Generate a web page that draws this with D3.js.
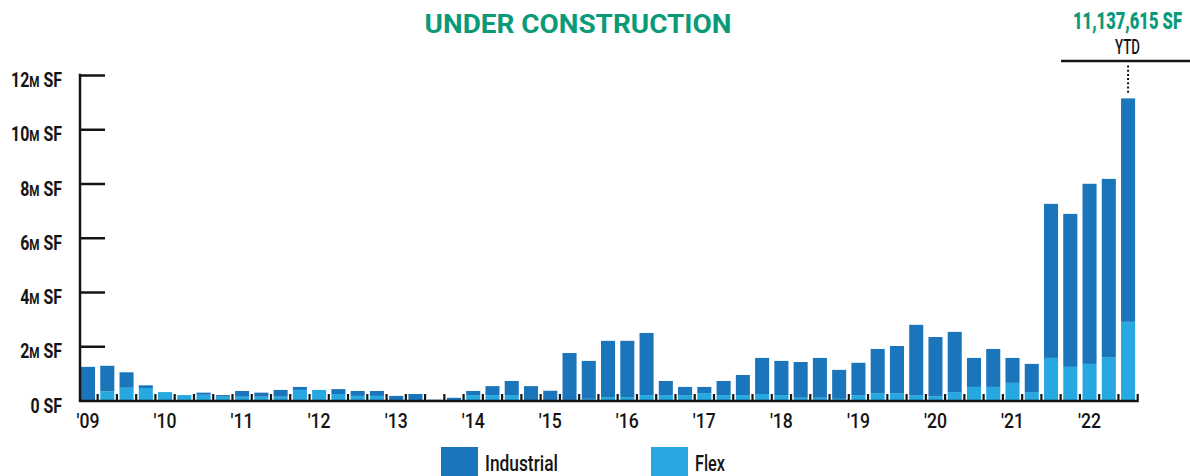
<!DOCTYPE html>
<html><head><meta charset="utf-8">
<script src="https://cdn.jsdelivr.net/npm/d3@7"></script>
<style>
html,body{margin:0;padding:0;background:#fff;}
svg{display:block;}
text{font-family:Roboto,"Noto Sans",sans-serif;}
</style></head>
<body><svg id="c" width="1190" height="476"></svg>
<script>
const years = ["'09","'10","'11","'12","'13","'14","'15","'16","'17","'18","'19","'20","'21","'22"];
const quarters = [];
for (let y = 2009; y <= 2022; y++) for (let q = 1; q <= 4; q++) { if (y === 2022 && q === 4) break; quarters.push(y + " Q" + q); }
// millions of SF
const industrial = [1.24,0.94,0.57,0.10, 0,0,0.08,0.06, 0.21,0.15,0.25,0.11, 0,0.18,0.18,0.18,
  0.17,0.24,0.03,0.10, 0.15,0.33,0.52,0.53, 0.36,1.73,1.40,2.07, 2.07,2.29,0.52,0.30,
  0.23,0.52,0.74,1.33, 1.26,1.32,1.47,1.07, 1.19,1.63,1.74,2.59, 2.18,2.22,1.07,1.40,
  0.92,1.04,5.68,5.64, 6.64,6.57,8.237615];
const flex = [0,0.34,0.47,0.46, 0.31,0.20,0.21,0.14, 0.14,0.14,0.14,0.39, 0.39,0.24,0.17,0.17,
  0,0,0,0, 0.20,0.20,0.20,0, 0,0.02,0.06,0.13, 0.13,0.20,0.20,0.20,
  0.27,0.20,0.20,0.24, 0.20,0.10,0.10,0.06, 0.20,0.27,0.27,0.20, 0.16,0.31,0.50,0.50,
  0.65,0.31,1.57,1.24, 1.35,1.60,2.90];
const yTicks = [0,2,4,6,8,10,12];
const seriesNames = ["Industrial","Flex"];
const ytdLabel = "11,137,615 SF";

const colInd = "#1b75bb", colFlex = "#27a8e0", green = "#0a9a78", ink = "#141414";
const svg = d3.select("#c");

// horizontally condense a text selection around its anchor x
function condense(sel, f) {
  sel.each(function(){
    const t = d3.select(this);
    const x0 = +t.attr("x") || 0;
    t.attr("transform", `translate(${x0},0) scale(${f},1) translate(${-x0},0)`);
  });
}
function factorFor(node, target) { return target / node.getComputedTextLength(); }

const x = d3.scaleBand().domain(quarters).range([78.4, 1137.7]).paddingInner(0.27).paddingOuter(0.135);
const y = d3.scaleLinear().domain([0,12]).range([400.5, 75]);

const rows = quarters.map((q,i)=>({q, Flex: flex[i], Industrial: industrial[i]}));
const stack = d3.stack().keys(["Flex","Industrial"])(rows);
const colors = {Flex: colFlex, Industrial: colInd};

svg.append("g").selectAll("g").data(stack).join("g")
  .attr("fill", d => colors[d.key])
  .selectAll("rect").data(d => d).join("rect")
  .attr("x", d => x(d.data.q)).attr("width", x.bandwidth())
  .attr("y", d => y(d[1])).attr("height", d => Math.max(0, y(d[0]) - y(d[1])));

// baseline and boundary ticks
const gap = x.step() - x.bandwidth();
svg.append("line").attr("x1", 79).attr("x2", x(quarters[quarters.length-1]) + x.bandwidth() + gap/2 + 1)
  .attr("y1", y(0) + 0.5).attr("y2", y(0) + 0.5).attr("stroke", ink).attr("stroke-width", 2.5);
svg.append("g").selectAll("line").data(quarters).join("line")
  .attr("x1", d => x(d) + x.bandwidth() + gap/2).attr("x2", d => x(d) + x.bandwidth() + gap/2)
  .attr("y1", y(0)).attr("y2", y(0) - 6.5).attr("stroke", ink).attr("stroke-width", 2.2);

// y axis
const ya = svg.append("g").attr("transform", "translate(80,0)")
  .call(d3.axisLeft(y).tickValues(yTicks).tickSize(-25).tickPadding(18).tickFormat(d => d));
ya.select(".domain").remove();
ya.selectAll(".tick line").attr("stroke", ink).attr("stroke-width", 2.5).filter(d => d === 0).remove();
const yt = ya.selectAll(".tick text").attr("fill", ink).attr("font-size", 20.5).attr("font-weight", 700)
  .attr("font-family", "Roboto, sans-serif")
  .attr("dy", "0.35em")
  .attr("y", 4.5)
  .each(function(d){
    const t = d3.select(this); t.text(null);
    if (d === 0) { t.append("tspan").text("0 SF"); }
    else { t.append("tspan").text(d); t.append("tspan").attr("font-size", 15).text("M"); t.append("tspan").text(" SF"); }
  });
const yf = factorFor(yt.filter(d => d === 12).node(), 51);
condense(yt, yf);
svg.append("line").attr("x1", 80).attr("x2", 80).attr("y1", 73.8).attr("y2", 402).attr("stroke", ink).attr("stroke-width", 2.5);

// x axis year labels
const q1s = quarters.filter(q => q.endsWith("Q1"));
const xa = svg.append("g").attr("transform", `translate(0,${y(0)})`)
  .call(d3.axisBottom(x).tickValues(q1s).tickSize(0).tickFormat((d,i) => years[i]));
xa.select(".domain").remove();
const xt = xa.selectAll(".tick text").attr("fill", ink).attr("font-size", 21).attr("font-weight", 500)
  .attr("font-family", "Roboto, sans-serif").attr("y", 27.5).attr("dy", 0);
condense(xt, factorFor(xt.node(), 23));

// title
const title = svg.append("text").attr("x", 578).attr("y", 33).attr("text-anchor","middle")
  .attr("font-family","Inter, 'Open Sans', sans-serif").attr("font-weight",700).attr("font-size",25.5)
  .attr("fill", green).text("UNDER CONSTRUCTION");
condense(title, factorFor(title.node(), 307));

// YTD annotation
const lastQ = quarters[quarters.length-1];
const cx = x(lastQ) + x.bandwidth()/2;
const num = svg.append("text").attr("x", 1127.5).attr("y", 29).attr("text-anchor","middle")
  .attr("font-size", 23).attr("font-weight",900).attr("fill", green).text(ytdLabel);
condense(num, factorFor(num.node(), 109));
const ytd = svg.append("text").attr("x", 1127.5).attr("y", 54).attr("text-anchor","middle")
  .attr("font-size", 19.5).attr("font-weight", 500).attr("fill", ink).text("YTD");
condense(ytd, factorFor(ytd.node(), 25));
svg.append("line").attr("x1", 1061).attr("x2", 1190).attr("y1", 61).attr("y2", 61).attr("stroke", ink).attr("stroke-width", 2.5);
svg.append("line").attr("x1", cx).attr("x2", cx).attr("y1", 65.5).attr("y2", 93)
  .attr("stroke", ink).attr("stroke-width", 2).attr("stroke-dasharray","2,2.2");

// legend
const lg = svg.append("g");
const lx = [441, 651];
const lw = [73, 30];
seriesNames.forEach((n,i) => {
  lg.append("rect").attr("x", lx[i]).attr("y", 447).attr("width", 37).attr("height", 37).attr("fill", colors[n]);
  const t = lg.append("text").attr("x", lx[i] + 44).attr("y", 471.5).attr("font-size", 22.5).attr("font-weight", 500).attr("fill", ink).text(n);
  condense(t, factorFor(t.node(), lw[i]));
});
</script></body></html>
